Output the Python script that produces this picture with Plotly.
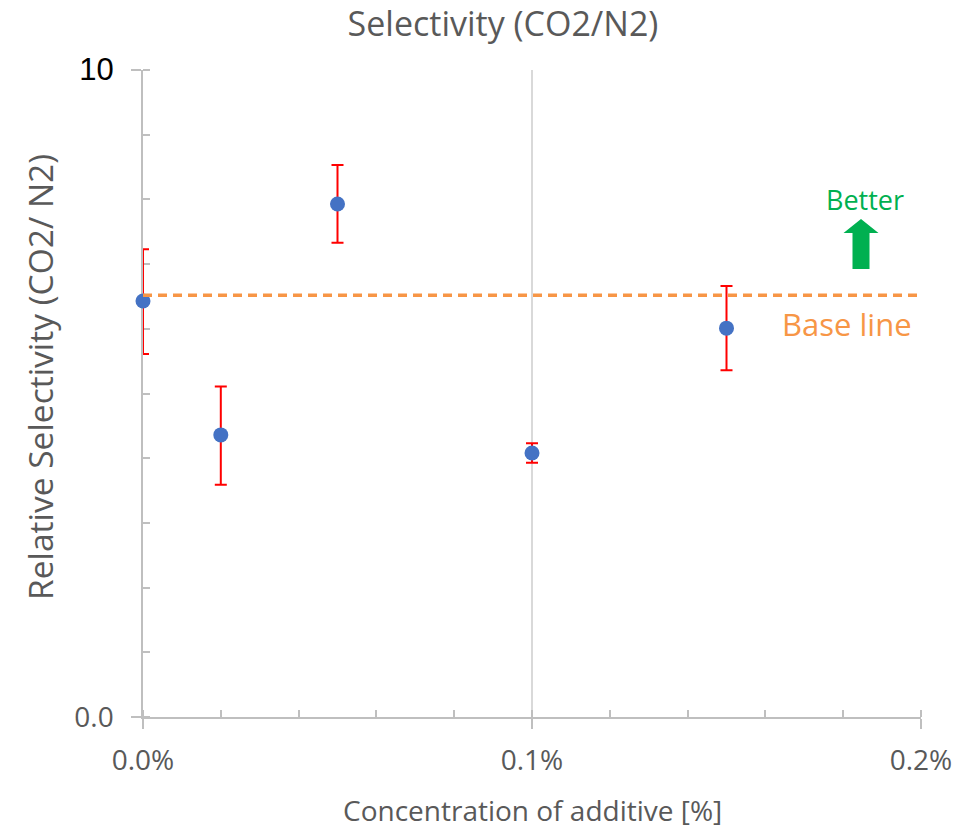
import plotly.graph_objects as go

# Data
concentration = [0.0, 0.02, 0.05, 0.10, 0.15]
selectivity = [6.43, 4.36, 7.93, 4.08, 6.01]
err_plus = [0.80, 0.75, 0.60, 0.15, 0.65]
err_minus = [0.82, 0.77, 0.60, 0.15, 0.65]
baseline = 6.52
x_tickvals = [0.0, 0.1, 0.2]
x_ticktext = ["0.0%", "0.1%", "0.2%"]
y_tickvals = [0, 10]
y_ticktext = ['<span style="color:#595959">0.0</span>',
              '<span style="color:#000000;font-family:Liberation Sans;font-size:31px">10</span>']

W, H = 973, 829
PL, PR, PT, PB = 143, 921, 70, 717
L, T, R, B = PL, PT, W - PR, H - PB
PW, PH = PR - PL, PB - PT

def px(xp):
    return (xp - PL) / PW

def py(yp):
    return (PB - yp) / PH

def fx(xp):
    return xp / W

def fy(yp):
    return 1 - yp / H

FONT = "Open Sans"
GRAY = "#595959"

fig = go.Figure()
fig.add_trace(go.Scatter(
    x=concentration, y=selectivity, mode="markers",
    marker=dict(color="#4472C4", size=15),
    error_y=dict(type="data", symmetric=False, array=err_plus, arrayminus=err_minus,
                 color="#FF0000", thickness=2, width=6),
    showlegend=False, cliponaxis=False,
))

# Baseline dashed
fig.add_shape(type="line", xref="paper", yref="y", x0=0, x1=1, y0=baseline, y1=baseline,
              line=dict(color="#F79646", width=3.5, dash="9px,6px"))

# Better arrow (block arrow)
cx = 861
sw, hw = 8.5, 17.5
ytip, yhead, ybot = 219, 233, 269
path = (f"M {px(cx)},{py(ytip)} L {px(cx+hw)},{py(yhead)} L {px(cx+sw)},{py(yhead)} "
        f"L {px(cx+sw)},{py(ybot)} L {px(cx-sw)},{py(ybot)} L {px(cx-sw)},{py(yhead)} "
        f"L {px(cx-hw)},{py(yhead)} Z")
fig.add_shape(type="path", xref="paper", yref="paper", path=path,
              fillcolor="#00B050", line=dict(width=0))

fig.add_annotation(text="Better", xref="paper", yref="paper", x=px(865), y=py(200),
                   xanchor="center", yanchor="middle",
                   showarrow=False, font=dict(family=FONT, size=27, color="#00B050"))
fig.add_annotation(text="Base line", xref="paper", yref="paper", x=px(847), y=py(324),
                   xanchor="center", yanchor="middle",
                   showarrow=False, font=dict(family=FONT, size=31, color="#F79646"))

# Axis titles
fig.add_annotation(text="Concentration of additive [%]", xref="paper", yref="paper",
                   x=px(532), y=py(810), xanchor="center", yanchor="middle", showarrow=False,
                   font=dict(family=FONT, size=28, color=GRAY))
fig.add_annotation(text="Relative Selectivity (CO2/ N2)", xref="paper", yref="paper",
                   x=px(40), y=py(377), xanchor="center", yanchor="middle", showarrow=False,
                   textangle=-90, font=dict(family=FONT, size=33.5, color=GRAY))

fig.update_layout(
    width=W, height=H,
    margin=dict(l=L, r=R, t=T, b=B, autoexpand=False),
    paper_bgcolor="white", plot_bgcolor="white",
    font=dict(family=FONT, color=GRAY),
    title=dict(text="Selectivity (CO2/N2)", x=fx(503), xanchor="center", y=fy(24), yanchor="middle",
               font=dict(family=FONT, size=34, color=GRAY)),
    xaxis=dict(
        range=[0, 0.2], tickmode="array", tickvals=x_tickvals, ticktext=x_ticktext,
        showgrid=True, gridcolor="#D9D9D9", gridwidth=1.5,
        showline=True, linecolor="#BFBFBF", linewidth=1.5,
        ticks="outside", ticklen=10, tickcolor="#BFBFBF", tickwidth=1.5,
        ticklabelstandoff=8, automargin=False, layer="below traces",
        tickfont=dict(family=FONT, size=28, color=GRAY),
        minor=dict(tickmode="linear", tick0=0, dtick=0.02, ticks="inside", ticklen=7,
                   tickcolor="#BFBFBF", tickwidth=1.5, showgrid=False),
        zeroline=False,
    ),
    yaxis=dict(
        range=[0, 10], tickmode="array", tickvals=y_tickvals, ticktext=y_ticktext,
        showgrid=True, gridcolor="#D9D9D9", gridwidth=1.5,
        showline=True, linecolor="#BFBFBF", linewidth=1.5,
        ticks="outside", ticklen=10, tickcolor="#BFBFBF", tickwidth=1.5,
        ticklabelstandoff=12, automargin=False, layer="below traces",
        tickfont=dict(family=FONT, size=28, color=GRAY),
        minor=dict(tickmode="linear", tick0=0, dtick=1, ticks="inside", ticklen=7,
                   tickcolor="#BFBFBF", tickwidth=1.5, showgrid=False),
        zeroline=False,
    ),
)

fig.write_html("out.html", config={"displayModeBar": False},
               post_script="document.body.style.margin='0px';")
